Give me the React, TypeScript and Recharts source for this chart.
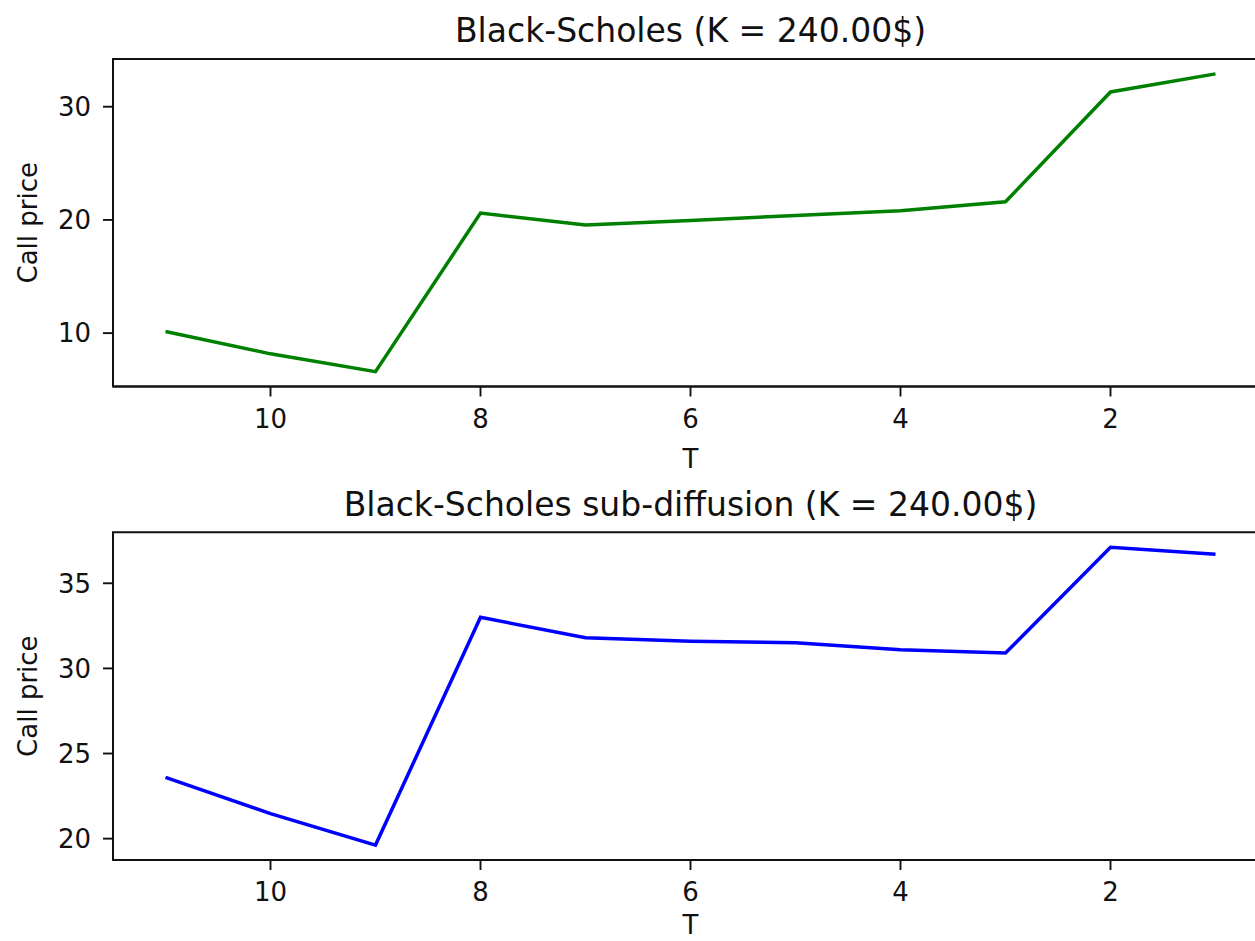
import React from 'react';
import { LineChart, Line, XAxis, YAxis, ReferenceArea } from 'recharts';

const tValues = [11, 10, 9, 8, 7, 6, 5, 4, 3, 2, 1];
const bsPrice = [10.15, 8.17, 6.6, 20.6, 19.55, 19.95, 20.4, 20.8, 21.6, 31.3, 32.9];
const subPrice = [23.6, 21.47, 19.62, 33.0, 31.8, 31.6, 31.5, 31.1, 30.9, 37.12, 36.7];
const xTicks = [10, 8, 6, 4, 2];
const bsYTicks = [10, 20, 30];
const subYTicks = [20, 25, 30, 35];
const titles = ['Black-Scholes (K = 240.00$)', 'Black-Scholes sub-diffusion (K = 240.00$)'];
const xLabel = 'T';
const yLabel = 'Call price';
const colors = ['#008000', '#0000ff'];

const FONT = 'DejaVu Sans, sans-serif';
const TICK_FS = 26;

function padDomain(vals: number[]): [number, number] {
  const mn = Math.min(...vals);
  const mx = Math.max(...vals);
  const r = mx - mn;
  return [mn - 0.05 * r, mx + 0.05 * r];
}

const xDomain: [number, number] = [
  Math.min(...tValues) - 0.05 * (Math.max(...tValues) - Math.min(...tValues)),
  Math.max(...tValues) + 0.05 * (Math.max(...tValues) - Math.min(...tValues)),
];

type PanelProps = {
  values: number[];
  color: string;
  yTicks: number[];
  top: number;
  height: number;
  marginTop: number;
  xAxisHeight: number;
  tOffset: number;
};

function Panel({ values, color, yTicks, top, height, marginTop, xAxisHeight, tOffset }: PanelProps) {
  const data = tValues.map((t, i) => ({ T: t, price: values[i] }));
  const yDomain = padDomain(values);
  const tickStyle = { fill: '#111', fontSize: TICK_FS, fontFamily: FONT };
  return (
    <div style={{ position: 'absolute', left: 0, top }}>
      <LineChart
        width={1300}
        height={height}
        data={data}
        margin={{ top: marginTop, right: 32, bottom: 0, left: 0 }}
      >
        <XAxis
          dataKey="T"
          type="number"
          domain={xDomain}
          reversed
          ticks={xTicks}
          interval={0}
          height={xAxisHeight}
          tickSize={10}
          tickMargin={13}
          tick={tickStyle}
          axisLine={{ stroke: '#111', strokeWidth: 1.9 }}
          tickLine={{ stroke: '#111', strokeWidth: 1.9 }}
          label={{ value: xLabel, position: 'insideBottom', offset: tOffset, fill: '#111', fontSize: TICK_FS, fontFamily: FONT }}
        />
        <YAxis
          type="number"
          domain={yDomain}
          ticks={yTicks}
          interval={0}
          width={113}
          tickSize={10}
          tickMargin={12}
          tick={tickStyle}
          axisLine={{ stroke: '#111', strokeWidth: 1.9 }}
          tickLine={{ stroke: '#111', strokeWidth: 1.9 }}
          label={(props: any) => {
            const vb = props.viewBox || {};
            const cy = (vb.y ?? 0) + (vb.height ?? 0) / 2;
            const x = 37;
            return (
              <text
                x={x}
                y={cy}
                transform={`rotate(-90, ${x}, ${cy})`}
                textAnchor="middle"
                fill="#111"
                fontSize={TICK_FS}
                fontFamily={FONT}
              >
                {yLabel}
              </text>
            );
          }}
        />
        <ReferenceArea
          x1={xDomain[0]}
          x2={xDomain[1]}
          y1={yDomain[0]}
          y2={yDomain[1]}
          fill="none"
          fillOpacity={0}
          stroke="#111"
          strokeWidth={1.9}
          ifOverflow="visible"
        />
        <Line
          type="linear"
          dataKey="price"
          stroke={color}
          strokeWidth={3.5}
          dot={false}
          activeDot={false}
          isAnimationActive={false}
        />
      </LineChart>
    </div>
  );
}

export default function App() {
  return (
    <div
      style={{
        position: 'fixed',
        left: 0,
        top: 0,
        width: 1255,
        height: 941,
        overflow: 'hidden',
        background: '#fff',
      }}
    >
      <Panel
        values={bsPrice}
        color={colors[0]}
        yTicks={bsYTicks}
        top={0}
        height={480}
        marginTop={59}
        xAxisHeight={93.5}
        tOffset={12}
      />
      <Panel
        values={subPrice}
        color={colors[1]}
        yTicks={subYTicks}
        top={480}
        height={461}
        marginTop={52.3}
        xAxisHeight={81}
        tOffset={7}
      />
      <svg
        width={1255}
        height={941}
        style={{ position: 'absolute', left: 0, top: 0, pointerEvents: 'none' }}
      >
        <text x={690.5} y={42} textAnchor="middle" fill="#111" fontSize={33} fontFamily={FONT}>
          {titles[0]}
        </text>
        <text x={690.5} y={516} textAnchor="middle" fill="#111" fontSize={33} fontFamily={FONT}>
          {titles[1]}
        </text>
      </svg>
    </div>
  );
}
